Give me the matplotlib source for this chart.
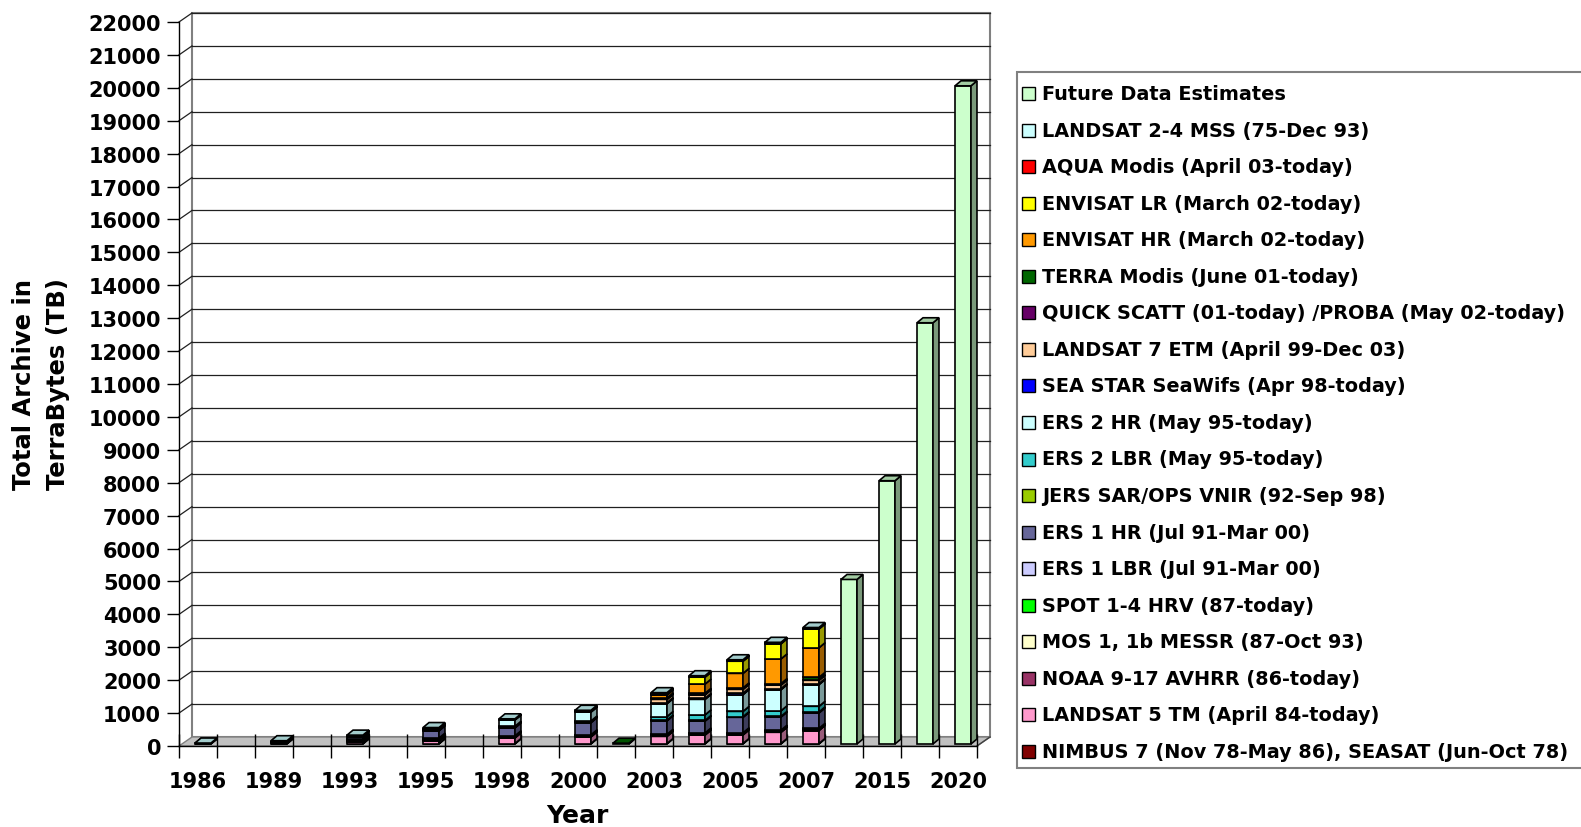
import matplotlib
matplotlib.use("Agg")
import matplotlib.pyplot as plt
import matplotlib.colors as mcolors
from matplotlib.patches import Polygon, Rectangle
import numpy as np

plt.rcParams['font.family'] = ['DejaVu Sans']
plt.rcParams['font.weight'] = 'bold'

# ---------------- data ----------------
tick_labels = ['1986', '', '1989', '', '1993', '', '1995', '', '1998', '', '2000', '',
               '2003', '', '2005', '', '2007', '', '2015', '', '2020']

nimbus     = [10, 0, 15, 0, 15, 0, 15, 0, 15, 0, 15, 0, 15, 15, 15, 15, 15, 0, 0, 0, 0]
landsat5   = [10, 0, 25, 0, 50, 0, 70, 0, 170, 0, 200, 0, 215, 255, 260, 340, 395, 0, 0, 0, 0]
noaa       = [0, 0, 15, 0, 30, 0, 30, 0, 25, 0, 25, 0, 25, 25, 25, 25, 25, 0, 0, 0, 0]
mos        = [0, 0, 10, 0, 15, 0, 15, 0, 10, 0, 10, 0, 10, 10, 10, 10, 10, 0, 0, 0, 0]
spot       = [0, 0, 15, 0, 30, 0, 30, 0, 20, 0, 20, 0, 20, 20, 20, 20, 20, 0, 0, 0, 0]
ers1_lbr   = [0, 0, 0, 0, 20, 0, 20, 0, 10, 0, 10, 0, 10, 10, 10, 10, 10, 0, 0, 0, 0]
ers1_hr    = [0, 0, 0, 0, 60, 0, 220, 0, 240, 0, 370, 0, 410, 360, 470, 400, 470, 0, 0, 0, 0]
jers       = [0, 0, 0, 0, 20, 0, 20, 0, 20, 0, 20, 0, 20, 20, 20, 20, 30, 0, 0, 0, 0]
ers2_lbr   = [0, 0, 0, 0, 0, 0, 20, 0, 30, 0, 30, 0, 110, 170, 160, 170, 170, 0, 0, 0, 0]
ers2_hr    = [0, 0, 0, 0, 0, 0, 30, 0, 190, 0, 270, 0, 390, 470, 510, 640, 660, 0, 0, 0, 0]
seastar    = [0, 0, 0, 0, 0, 0, 0, 0, 10, 0, 15, 0, 30, 30, 40, 30, 30, 0, 0, 0, 0]
landsat7   = [0, 0, 0, 0, 0, 0, 0, 0, 0, 0, 15, 0, 100, 110, 120, 110, 100, 0, 0, 0, 0]
quickscatt = [0, 0, 0, 0, 0, 0, 0, 0, 0, 0, 0, 0, 20, 20, 20, 20, 20, 0, 0, 0, 0]
terra      = [0, 0, 0, 0, 0, 0, 0, 0, 0, 0, 0, 25, 25, 25, 25, 25, 70, 0, 0, 0, 0]
envisat_hr = [0, 0, 0, 0, 0, 0, 0, 0, 0, 0, 0, 0, 90, 280, 440, 750, 900, 0, 0, 0, 0]
envisat_lr = [0, 0, 0, 0, 0, 0, 0, 0, 0, 0, 0, 0, 25, 210, 370, 460, 570, 0, 0, 0, 0]
aqua       = [0, 0, 0, 0, 0, 0, 0, 0, 0, 0, 0, 0, 20, 20, 20, 20, 20, 0, 0, 0, 0]
landsat24  = [10, 0, 20, 0, 30, 0, 30, 0, 25, 0, 25, 0, 25, 25, 25, 25, 25, 0, 0, 0, 0]
future     = [0, 0, 0, 0, 0, 0, 0, 0, 0, 0, 0, 0, 0, 0, 0, 0, 0, 5000, 8000, 12800, 20000]

series_names = [
    'NIMBUS 7 (Nov 78-May 86), SEASAT (Jun-Oct 78)',
    'LANDSAT 5 TM (April 84-today)',
    'NOAA 9-17 AVHRR (86-today)',
    'MOS 1, 1b MESSR (87-Oct 93)',
    'SPOT 1-4 HRV (87-today)',
    'ERS 1 LBR (Jul 91-Mar 00)',
    'ERS 1 HR (Jul 91-Mar 00)',
    'JERS SAR/OPS VNIR (92-Sep 98)',
    'ERS 2 LBR (May 95-today)',
    'ERS 2 HR (May 95-today)',
    'SEA STAR SeaWifs (Apr 98-today)',
    'LANDSAT 7 ETM (April 99-Dec 03)',
    'QUICK SCATT (01-today) /PROBA (May 02-today)',
    'TERRA Modis (June 01-today)',
    'ENVISAT HR (March 02-today)',
    'ENVISAT LR (March 02-today)',
    'AQUA Modis (April 03-today)',
    'LANDSAT 2-4 MSS (75-Dec 93)',
    'Future Data Estimates',
]
series_values = [nimbus, landsat5, noaa, mos, spot, ers1_lbr, ers1_hr, jers, ers2_lbr,
                 ers2_hr, seastar, landsat7, quickscatt, terra, envisat_hr, envisat_lr,
                 aqua, landsat24, future]
series_colors = ['#800000', '#FF99CC', '#993366', '#FFFFCC', '#00FF00', '#CCCCFF',
                 '#666699', '#99CC00', '#33CCCC', '#CCFFFF', '#0000FF', '#FFCC99',
                 '#660066', '#006600', '#FF9900', '#FFFF00', '#FF0000', '#CCFFFF',
                 '#CCFFCC']

# ---------------- figure / axes ----------------
W, H = 1581, 828
fig = plt.figure(figsize=(W / 100, H / 100), dpi=100)
x0, x1, ytop, ybot = 179, 977, 23, 747
ax = fig.add_axes([x0 / W, 1 - ybot / H, (x1 - x0) / W, (ybot - ytop) / H])
ax.set_facecolor('none')
n = len(tick_labels)
ax.set_xlim(-0.5, n - 0.5)
ax.set_ylim(0, 22000)
yticks = np.arange(0, 22001, 1000)

def shift(x, y, dx, dy):
    p = ax.transData.transform((x, y)) + np.array([dx, dy])
    return ax.transData.inverted().transform(p)

WALL = (13, 9)
xl, xr = -0.5, n - 0.5
# back wall
wall = [shift(xl, 0, *WALL), shift(xr, 0, *WALL), shift(xr, 22000, *WALL), shift(xl, 22000, *WALL)]
ax.add_patch(Polygon(wall, closed=True, facecolor='white', edgecolor='#808080', lw=1.5,
                     clip_on=False, zorder=0.3))
for v in yticks[1:]:
    a = shift(xl, v, *WALL)
    b = shift(xr, v, *WALL)
    ax.plot([a[0], b[0]], [a[1], b[1]], color='#202020', lw=0.9, clip_on=False, zorder=0.4)
    ax.plot([xl, a[0]], [v, a[1]], color='#202020', lw=0.9, clip_on=False, zorder=0.4)
# floor
floor = [(xl, 0), (xr, 0), shift(xr, 0, *WALL), shift(xl, 0, *WALL)]
ax.add_patch(Polygon(floor, closed=True, facecolor='#C0C0C0', edgecolor='#808080', lw=1.0,
                     clip_on=False, zorder=0.5))
a = shift(xr, 0, *WALL)
ax.plot([xr, a[0]], [0, a[1]], color='#404040', lw=1.0, clip_on=False, zorder=0.6)

# bars (pseudo-3D stacked columns)
FACE = (5, 2)
BACK = (11, 7)
bw = 0.42

def shade(c, f):
    r, g, b = mcolors.to_rgb(c)
    return (r * f, g * f, b * f)

for i in range(n):
    base = 0.0
    z = 1.0
    for vals, col in zip(series_values, series_colors):
        v = vals[i]
        if v <= 0:
            continue
        top = base + v
        xa, xb = i - bw / 2, i + bw / 2
        front = [shift(xa, base, *FACE), shift(xb, base, *FACE), shift(xb, top, *FACE), shift(xa, top, *FACE)]
        side = [shift(xb, base, *FACE), shift(xb, base, *BACK), shift(xb, top, *BACK), shift(xb, top, *FACE)]
        topf = [shift(xa, top, *FACE), shift(xb, top, *FACE), shift(xb, top, *BACK), shift(xa, top, *BACK)]
        for pts, fc in ((front, col), (side, shade(col, 0.6)), (topf, shade(col, 0.8))):
            ax.add_patch(Polygon(pts, closed=True, facecolor=fc, edgecolor='black', lw=1.2,
                                 joinstyle='miter', clip_on=False, zorder=z))
        z += 0.01
        base = top

# spines and ticks
for s in ('top', 'right'):
    ax.spines[s].set_visible(False)
for s in ('left', 'bottom'):
    ax.spines[s].set_color('black')
    ax.spines[s].set_linewidth(1.0)

ax.set_yticks(yticks)
ax.set_yticklabels([str(v) for v in yticks])
ax.tick_params(axis='y', direction='out', length=8.6, width=1.0, pad=4.3, labelsize=15,
               colors='black')
ax.set_xticks(np.arange(-0.5, n, 1.0))
ax.set_xticklabels([])
ax.tick_params(axis='x', which='major', direction='inout', length=17.3, width=1.0, colors='black')
lab_pos = [i for i, t in enumerate(tick_labels) if t]
ax.set_xticks(lab_pos, minor=True)
ax.set_xticklabels([tick_labels[i] for i in lab_pos], minor=True)
ax.tick_params(axis='x', which='minor', length=0, pad=18.0, labelsize=15)
for lbl in ax.get_xticklabels(minor=True) + ax.get_yticklabels():
    lbl.set_fontweight('bold')

fig.text(41 / W, 1 - 384 / H, 'Total Archive in\nTerraBytes (TB)', rotation=90,
         ha='center', va='center', fontsize=17.5, fontweight='bold', linespacing=1.48)
fig.text(577 / W, 1 - 816 / H, 'Year', ha='center', va='center', fontsize=18,
         fontweight='bold')

# legend (drawn in pixel coordinates)
lg = fig.add_axes([0, 0, 1, 1], zorder=5)
lg.set_xlim(0, W)
lg.set_ylim(H, 0)
lg.axis('off')
lg.add_patch(Rectangle((1017, 73), W - 1017 + 5, 769 - 73, facecolor='white',
                       edgecolor='#808080', lw=1.5))
texts = []
row0, pitch = 94.5, 36.55
for k, (name, col) in enumerate(zip(series_names[::-1], series_colors[::-1])):
    yc = row0 + k * pitch
    lg.add_patch(Rectangle((1022, yc - 6.5), 13, 13, facecolor=col, edgecolor='black', lw=1.0))
    texts.append(lg.text(1042, yc, name, ha='left', va='center', fontsize=12,
                         fontweight='bold', color='black'))
fig.canvas.draw()
r = fig.canvas.get_renderer()
wref = None
for t in texts:
    if t.get_text().startswith('NIMBUS'):
        wref = t.get_window_extent(r).width
scale = 525.0 / wref
for t in texts:
    t.set_fontsize(12 * scale)

fig.savefig('out.png', dpi=100)
